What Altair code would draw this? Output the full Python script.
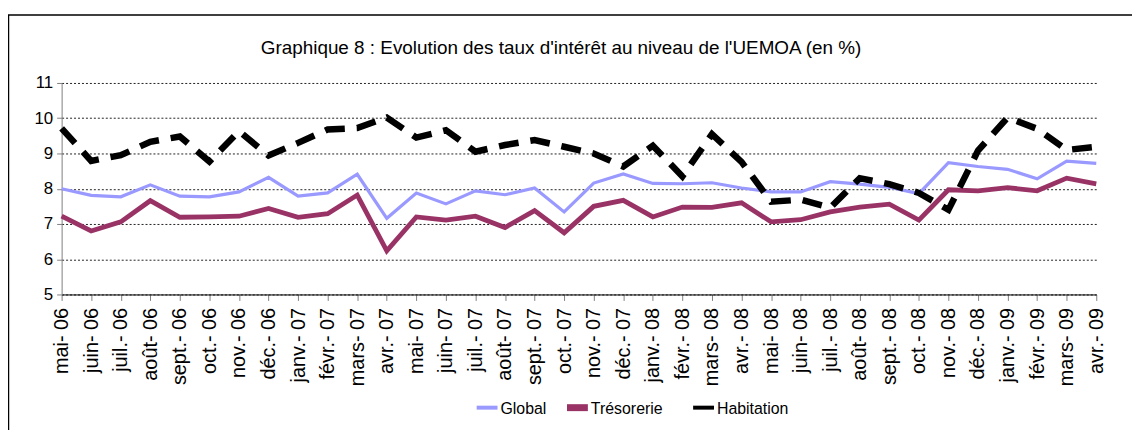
import altair as alt
import pandas as pd

months = ["mai- 06", "juin- 06", "juil.- 06", "août- 06", "sept.- 06", "oct.- 06",
          "nov.- 06", "déc.- 06", "janv.- 07", "févr.- 07", "mars- 07", "avr.- 07",
          "mai- 07", "juin- 07", "juil.- 07", "août- 07", "sept.- 07", "oct.- 07",
          "nov.- 07", "déc.- 07", "janv.- 08", "févr.- 08", "mars- 08", "avr.- 08",
          "mai- 08", "juin- 08", "juil.- 08", "août- 08", "sept.- 08", "oct.- 08",
          "nov.- 08", "déc.- 08", "janv.- 09", "févr.- 09", "mars- 09", "avr.- 09"]

global_rate = [8.00, 7.81, 7.77, 8.11, 7.79, 7.77, 7.91, 8.32, 7.79, 7.88, 8.41, 7.16,
               7.88, 7.57, 7.94, 7.83, 8.02, 7.34, 8.16, 8.42, 8.15, 8.14, 8.17, 8.02,
               7.91, 7.91, 8.20, 8.13, 8.04, 7.86, 8.74, 8.63, 8.55, 8.28, 8.78, 8.72]

tresorerie = [7.22, 6.80, 7.06, 7.66, 7.19, 7.20, 7.22, 7.44, 7.19, 7.29, 7.82, 6.24,
              7.20, 7.11, 7.22, 6.90, 7.38, 6.75, 7.50, 7.67, 7.20, 7.48, 7.47, 7.60,
              7.06, 7.12, 7.34, 7.48, 7.56, 7.11, 7.97, 7.94, 8.03, 7.94, 8.30, 8.14]

habitation = [9.71, 8.79, 8.95, 9.33, 9.48, 8.77, 9.63, 8.94, 9.30, 9.68, 9.72, 10.02,
              9.45, 9.66, 9.05, 9.24, 9.38, 9.19, 9.00, 8.63, 9.22, 8.35, 9.55, 8.76,
              7.63, 7.69, 7.46, 8.30, 8.13, 7.88, 7.40, 9.08, 10.02, 9.70, 9.10, 9.19]

series_names = ["Global", "Trésorerie", "Habitation"]
series_colors = ["#9999FF", "#993366", "#000000"]
series_widths = [3.2, 6.5, 3.5]

title_text = "Graphique 8 : Evolution des taux d'intérêt au niveau de l'UEMOA (en %)"

rows = []
for name, vals in zip(series_names, [global_rate, tresorerie, habitation]):
    for m, v in zip(months, vals):
        rows.append({"mois": m, "taux": v, "serie": name})
df = pd.DataFrame(rows)

FONT = "Liberation Sans"

x_enc = alt.X("mois:N", sort=months, title=None,
              scale=alt.Scale(type="point", padding=0),
              axis=alt.Axis(labelAngle=-90, labelFontSize=20, labelFont=FONT,
                            labelColor="black", labelPadding=7,
                            domainColor="black", domainWidth=1,
                            tickColor="#808080", tickSize=6, grid=False))
y_enc = alt.Y("taux:Q", title=None,
              scale=alt.Scale(domain=[5, 11], nice=False, zero=False),
              axis=alt.Axis(values=[5, 6, 7, 8, 9, 10, 11], labelFontSize=17, labelFont=FONT,
                            labelColor="black", labelPadding=4,
                            domainColor="#808080", domainWidth=1,
                            tickColor="#808080", tickSize=5,
                            grid=True, gridColor="#222222", gridDash=[2, 2], gridWidth=1))
color_enc = alt.Color("serie:N", scale=alt.Scale(domain=series_names, range=series_colors),
                      legend=None)
width_enc = alt.StrokeWidth("serie:N",
                            scale=alt.Scale(domain=series_names, range=series_widths),
                            legend=None)

solid = alt.Chart(df).transform_filter(
    alt.datum.serie != "Habitation"
).mark_line(strokeJoin="miter", strokeCap="butt").encode(
    x=x_enc, y=y_enc, color=color_enc, strokeWidth=width_enc,
    order=alt.Order("serie:N", sort="ascending"),
)

dashed = alt.Chart(df).transform_filter(
    alt.datum.serie == "Habitation"
).mark_line(strokeJoin="miter", strokeCap="butt", strokeDash=[20, 12]).encode(
    x=x_enc, y=y_enc, color=color_enc, strokeWidth=width_enc,
)

border = alt.Chart(pd.DataFrame({"a": [0]})).mark_rect(
    filled=False, stroke="black", strokeWidth=1.5
).encode(
    x=alt.value(-53.5), x2=alt.value(1200),
    y=alt.value(-68.5), y2=alt.value(420),
)

title = alt.Chart(pd.DataFrame({"t": [title_text]})).mark_text(
    font=FONT, fontSize=19, color="black", align="center", baseline="middle"
).encode(
    text="t:N", x=alt.value(503), y=alt.value(-35),
)

# legend (layout constants, in plot-area pixels)
legend_sym_x = [418, 509, 636]
legend_sym_w = [4, 7, 4]
legend_y = 327
legend_layers = []
for name, col, sx, sw in zip(series_names, series_colors, legend_sym_x, legend_sym_w):
    src = alt.Chart(pd.DataFrame({"s": [name]}))
    legend_layers.append(
        src.mark_rule(color=col, strokeWidth=sw, strokeCap="butt").encode(
            x=alt.value(sx), x2=alt.value(sx + 21), y=alt.value(legend_y))
    )
    legend_layers.append(
        src.mark_text(font=FONT, fontSize=16, color="black", align="left",
                      baseline="middle").encode(
            text="s:N", x=alt.value(sx + 24), y=alt.value(legend_y + 1))
    )

chart = alt.layer(border, title, solid, dashed, *legend_layers).properties(
    width=1042, height=213,
    autosize=alt.AutoSizeParams(type="none"),
    padding={"left": 54, "top": 74, "right": 36, "bottom": 135},
).configure_view(stroke=None)

chart.save("out.html", embed_options={"renderer": "svg", "actions": False})
